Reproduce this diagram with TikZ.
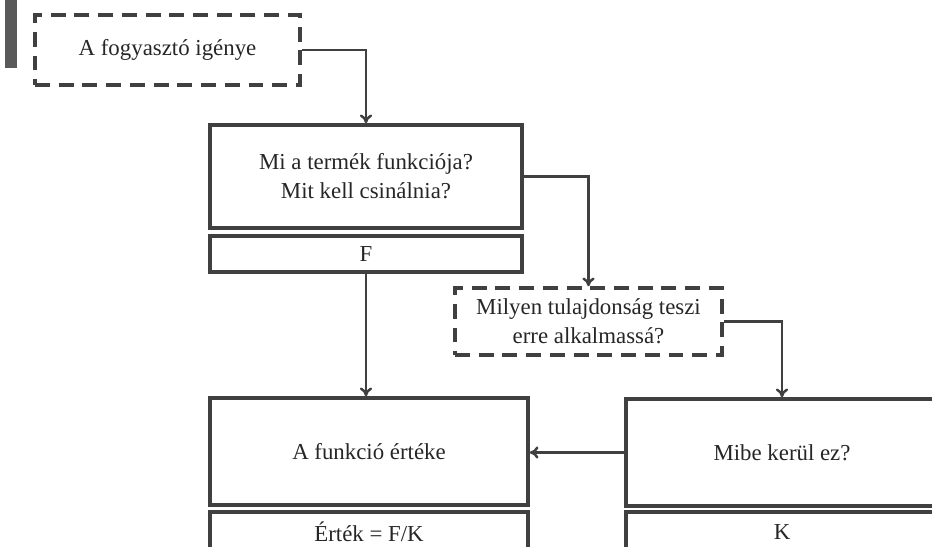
\documentclass[tikz,border=0pt]{standalone}
\usepackage{fontspec}
\setmainfont{Liberation Serif}
\usetikzlibrary{arrows.meta}

\begin{document}
\begin{tikzpicture}[
  box/.style={draw=black!75, line width=2pt, minimum width=6.24cm, align=center, text=black!85, font=\fontsize{13}{16.5}\selectfont},
  dbox/.style={draw=black!75, line width=2pt, dash pattern=on 8.5pt off 5pt, align=center, text=black!85, font=\fontsize{13}{16.5}\selectfont},
  conn/.style={draw=black!75, line width=1.4pt, -{To[length=5pt,width=7pt]}}]
\useasboundingbox (0,0) rectangle (18.64,-10.94);
\clip (0,0) rectangle (18.64,-10.94);
\fill[black!65] (0.1,0) rectangle (0.34,-1.36);
\node[dbox, minimum width=5.3cm, minimum height=1.4cm] (need) at (3.35,-1.0) {A fogyasztó igénye};
\node[box, minimum height=2.06cm] (func) at (7.32,-3.53) {Mi a termék funkciója?\\Mit kell csinálnia?};
\node[box, minimum height=0.72cm] (fval) at (7.32,-5.08) {F};
\node[dbox, minimum width=5.34cm, minimum height=1.34cm] (prop) at (11.77,-6.43) {Milyen tulajdonság teszi\\erre alkalmassá?};
\node[box, minimum width=6.36cm, minimum height=2.14cm] (worth) at (7.38,-9.03) {A funkció értéke};
\node[box, minimum width=6.36cm, minimum height=0.8cm] (ratio) at (7.38,-10.64) {Érték = F/K};
\node[box, minimum height=2.14cm] (cost) at (15.64,-9.05) {Mibe kerül ez?};
\node[box, minimum height=0.8cm] (kval) at (15.64,-10.64) {K};
\draw[conn] (need.east) -| (func.north);
\draw[conn] (func.east) -| (prop.north);
\draw[conn] (fval.south) -- (fval.south |- worth.north);
\draw[conn] (prop.east) -| (cost.north);
\draw[conn] (cost.west) -- (cost.west -| worth.east);
\end{tikzpicture}
\end{document}
